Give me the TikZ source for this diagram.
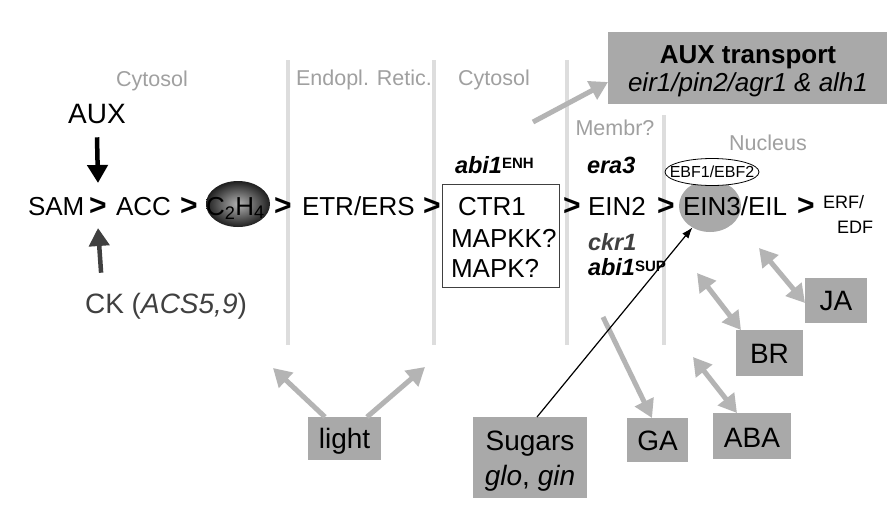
\documentclass[tikz,border=0pt]{standalone}
\usepackage{fontspec}
\setmainfont{Liberation Sans}
\usetikzlibrary{arrows.meta,shapes.geometric}
\definecolor{boxgray}{HTML}{A9A9A9}
\definecolor{arrgray}{HTML}{B4B4B4}
\definecolor{linegray}{HTML}{DDDDDD}
\definecolor{labgray}{HTML}{A0A0A0}
\definecolor{dkgray}{HTML}{404040}
\newcommand\fsz[1]{\fontsize{#1}{#1}\selectfont}
\begin{document}
\begin{tikzpicture}[x=1pt,y=-1pt,
  every node/.style={inner sep=0pt,outer sep=0pt},
  main/.style={font=\fsz{26},anchor=base west},
  gt/.style={font=\fsz{30}\bfseries,anchor=base},
  lab/.style={font=\fsz{21.5},text=labgray,anchor=base},
  vline/.style={draw=linegray,line width=4pt},
  gbox/.style={fill=boxgray,draw=none},
  btext/.style={font=\fsz{28},anchor=base},
  garrow/.style={draw=arrgray,line width=5pt,-{Triangle[length=18pt,width=20pt]}},
  gdarrow/.style={draw=arrgray,line width=5pt,{Triangle[length=18pt,width=20pt]}-{Triangle[length=18pt,width=20pt]}},
  karrow/.style={line width=4.5pt,-{Triangle[length=18pt,width=20pt]}},
  sarrow/.style={line width=1.2pt,-{Latex[length=11pt,width=8pt]}}]
\useasboundingbox (0,0) rectangle (887,512);
\fill[white] (0,0) rectangle (887,512);

% compartment lines
\draw[vline] (288,60) -- (288,345);
\draw[vline] (434,60) -- (434,345);
\draw[vline] (567,60) -- (567,345);
\draw[vline] (664,115) -- (664,345);

% compartment labels
\node[lab] (lcyt1) at (152,86) {Cytosol};
\node[lab] (ler) at (364,85) {Endopl. Retic.};
\node[lab] (lcyt2) at (494,85) {Cytosol};
\node[lab] (lmem) at (615,135) {Membr?};
\node[lab] (lnuc) at (768,150) {Nucleus};

% AUX transport box
\node[gbox,minimum width=279pt,minimum height=72pt] (auxt) at (747.5,68) {};
\node[font=\fsz{26}\bfseries,anchor=base] (auxtt) at (748,63) {AUX transport};
\node[font=\fsz{26}\itshape,anchor=base] (auxti) at (748,91) {eir1/pin2/agr1 \& alh1};
\coordinate (auxs) at (533,122);
\draw[garrow] (auxs) -- ([yshift=-14pt]auxt.west);

% upstream
\node[font=\fsz{28},anchor=base] (aux) at (97,123) {AUX};
\node[font=\fsz{28},anchor=base,text=dkgray] (ck) at (166,313) {CK (\textit{ACS5,9})};

% main row
\node[main] (sam) at (28,215) {SAM};
\node[gt] (gt1) at (98,215) {>};
\node[main] (acc) at (116,215) {ACC};
\node[gt] (gt2) at (189,215) {>};
\node[ellipse,minimum width=64pt,minimum height=46pt,inner color=black!30,outer color=black!88] (c2h4) at (238,204) {};
\node[font=\fsz{26},anchor=base west] (c2h4t) at (206,215) {C\textsubscript{2}H\textsubscript{4}};
\node[gt] (gt3) at (283,215) {>};
\node[main] (etr) at (302,215) {ETR/ERS};
\node[gt] (gt4) at (432,215) {>};
\node[draw=black!75,line width=0.8pt,minimum width=117pt,minimum height=103pt] (ctrbox) at (500.5,235.5) {};
\node[main] (ctr1) at (458,215) {CTR1};
\node[main] (mapkk) at (451,247) {MAPKK?};
\node[main] (mapk) at (451,277) {MAPK?};
\node[font=\fsz{23.5}\bfseries\itshape,anchor=base west] (abienh) at (455,173) {abi1\raisebox{5pt}{\fsz{15}\upshape ENH}};
\node[gt] (gt5) at (572,215) {>};
\node[main] (ein2) at (588,215) {EIN2};
\node[gt] (gt6) at (666,215) {>};
\node[ellipse,fill=boxgray,minimum width=62pt,minimum height=52pt] (ein3bg) at (710,206) {};
\node[ellipse,draw,fill=white,line width=0.8pt,minimum width=94pt,minimum height=27pt] (ebf) at (712,172) {};
\node[font=\fsz{16}] (ebft) at (712,172) {EBF1/EBF2};
\node[main] (ein3) at (683,215) {EIN3/EIL};
\node[gt] (gt7) at (806,215) {>};
\node[font=\fsz{18},anchor=base west] (erf) at (823,208) {ERF/};
\node[font=\fsz{18},anchor=base west] (edf) at (837,233) {EDF};

% mutants
\node[font=\fsz{23.5}\bfseries\itshape,anchor=base west] (era3) at (587,173) {era3};
\node[font=\fsz{23.5}\bfseries\itshape,anchor=base west,text=dkgray] (ckr1) at (588,250) {ckr1};
\node[font=\fsz{23.5}\bfseries\itshape,anchor=base west] (abisup) at (588,275) {abi1\raisebox{4pt}{\fsz{15}\upshape SUP}};

% upstream arrows
\coordinate (auxtip) at (98,183);
\draw[karrow] ([yshift=-14pt]aux.south) -- (auxtip);
\coordinate (cktip) at (98,228);
\draw[karrow,draw=dkgray,fill=dkgray] ([xshift=16pt,yshift=20pt]ck.north west) -- (cktip);

% boxes
\node[gbox,minimum width=73pt,minimum height=43pt] (light) at (344.5,438.5) {};
\node[btext] (lightt) at (344.5,448) {light};
\node[gbox,minimum width=114pt,minimum height=81pt] (sugars) at (530,457.5) {};
\node[btext] (sugt) at (530,450) {Sugars};
\node[btext] (sugi) at (530,485) {\textit{glo}, \textit{gin}};
\node[gbox,minimum width=61pt,minimum height=44pt] (ga) at (657.5,440) {};
\node[btext] (gat) at (657.5,450) {GA};
\node[gbox,minimum width=78pt,minimum height=46pt] (aba) at (752,436) {};
\node[btext] (abat) at (752,447) {ABA};
\node[gbox,minimum width=67pt,minimum height=46pt] (br) at (769.5,353) {};
\node[btext] (brt) at (769.5,363) {BR};
\node[gbox,minimum width=62pt,minimum height=45pt] (ja) at (836,300.5) {};
\node[btext] (jat) at (836,310) {JA};

% connectors
\coordinate (lightl) at (273,368);
\coordinate (lightr) at (425,367);
\draw[garrow] ([xshift=17pt]light.north west) -- (lightl);
\draw[garrow] ([xshift=-14pt]light.north east) -- (lightr);
\coordinate (gas) at (603,317);
\draw[garrow] (gas) -- ([xshift=-5.5pt]ga.north);
\coordinate (abas) at (693,357);
\draw[gdarrow] (abas) -- ([xshift=-15pt]aba.north);
\coordinate (brs) at (697,273);
\draw[gdarrow] (brs) -- ([xshift=5pt]br.north west);
\coordinate (jas) at (759,248);
\draw[gdarrow] (jas) -- ([yshift=-2.5pt]ja.west);
\draw[sarrow] ([xshift=7pt]sugars.north) -- (ein3bg);
\end{tikzpicture}
\end{document}
